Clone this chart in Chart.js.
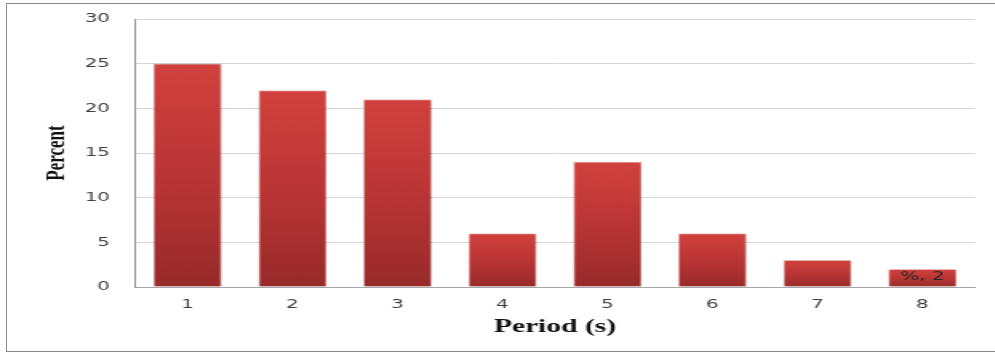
<!DOCTYPE html>
<html>
<head>
<meta charset="utf-8">
<script src="https://cdn.jsdelivr.net/npm/chart.js@4/dist/chart.umd.min.js"></script>
<style>
  html, body { margin: 0; padding: 0; background: #fff; overflow: hidden; width: 995px; height: 353px; }
  #frame {
    position: absolute; left: 6px; top: 2.5px; width: 989px; height: 349px;
    border: 1.5px solid #8a8a8a; border-right: none; box-sizing: border-box;
  }
  #wrap {
    position: absolute; left: 0; top: 0; width: 622px; height: 353px;
    transform: scaleX(1.5997); transform-origin: 0 0;
  }
</style>
</head>
<body>
<div id="frame"></div>
<div id="wrap"><canvas id="chart" width="622" height="353"></canvas></div>
<script>
// Share of records per period band
const periods = ['1', '2', '3', '4', '5', '6', '7', '8'];
const percent = [25, 22, 21, 6, 14, 6, 3, 2];
const yTicks = [0, 5, 10, 15, 20, 25, 30];
const labelledPeriods = ['8'];

const serif = "'Liberation Serif', 'Times New Roman', serif";
const sans = "'DejaVu Sans', Verdana, sans-serif";

// Each bar gets its own vertical gradient, bright on top, deep red at the base
function barFill(ctx) {
  const chart = ctx.chart;
  const y = chart.scales && chart.scales.y;
  if (!y || ctx.type !== 'data') return '#c13937';
  const top = y.getPixelForValue(ctx.raw);
  const base = y.getPixelForValue(0);
  if (!isFinite(top) || !isFinite(base) || top === base) return '#c13937';
  const g = chart.ctx.createLinearGradient(0, top, 0, base);
  g.addColorStop(0, '#d1413d');
  g.addColorStop(0.5, '#ba3535');
  g.addColorStop(1, '#982a2a');
  return g;
}

// Soft drop shadow under the bars
const barShadow = {
  id: 'barShadow',
  beforeDatasetsDraw(chart) {
    const c = chart.ctx;
    c.save();
    c.shadowColor = 'rgba(0,0,0,0.25)';
    c.shadowBlur = 3;
    c.shadowOffsetX = 1;
    c.shadowOffsetY = 1;
  },
  afterDatasetsDraw(chart) {
    chart.ctx.restore();
  }
};

// Value label inside the selected bars
const valueLabels = {
  id: 'valueLabels',
  afterDraw(chart) {
    const c = chart.ctx;
    const meta = chart.getDatasetMeta(0);
    c.save();
    c.font = '12.5px ' + sans;
    c.fillStyle = '#262626';
    c.textAlign = 'center';
    c.textBaseline = 'middle';
    labelledPeriods.forEach(p => {
      const i = periods.indexOf(p);
      const bar = meta.data[i];
      if (!bar) return;
      const text = '%, ' + percent[i];
      c.fillText(text, bar.x, (bar.y + bar.base) / 2 - 1.5);
    });
    c.restore();
  }
};

new Chart(document.getElementById('chart'), {
  type: 'bar',
  data: {
    labels: periods,
    datasets: [{
      data: percent,
      backgroundColor: barFill,
      borderColor: 'rgba(214,90,84,0.7)',
      borderWidth: 0.8,
      borderSkipped: 'bottom',
      categoryPercentage: 1,
      barPercentage: 0.648
    }]
  },
  options: {
    responsive: false,
    animation: false,
    devicePixelRatio: 1,
    layout: { padding: { top: 19, right: 12.6, left: 0, bottom: 0 } },
    plugins: { legend: { display: false }, tooltip: { enabled: false } },
    scales: {
      x: {
        grid: { display: false, drawTicks: false },
        border: { display: true, color: '#a6a6a6', width: 1 },
        ticks: { color: '#404040', font: { family: sans, size: 12.5 }, padding: 10.5 },
        title: {
          display: true, text: 'Period (s)', color: '#111',
          font: { family: serif, size: 18.5, weight: 'bold' },
          padding: { top: 0, bottom: 15 }
        },
        afterFit(s) { s.height = 66; }
      },
      y: {
        min: 0, max: 30,
        afterBuildTicks(s) { s.ticks = yTicks.map(v => ({ value: v })); },
        grid: { color: '#d6d6d6', lineWidth: 1, drawTicks: false },
        border: { display: true, color: '#8f8f8f', width: 1 },
        ticks: { color: '#404040', font: { family: sans, size: 12.5 }, padding: 15.6 },
        title: {
          display: true, text: 'Percent', color: '#111',
          font: { family: serif, size: 17, weight: 'bold' },
          padding: { top: 25.5, bottom: 0 }
        },
        afterFit(s) {
          s.width = 84.4;
          s.paddingTop = 0;
          s.paddingBottom = 0;
        }
      }
    }
  },
  plugins: [barShadow, valueLabels]
});
</script>
</body>
</html>
